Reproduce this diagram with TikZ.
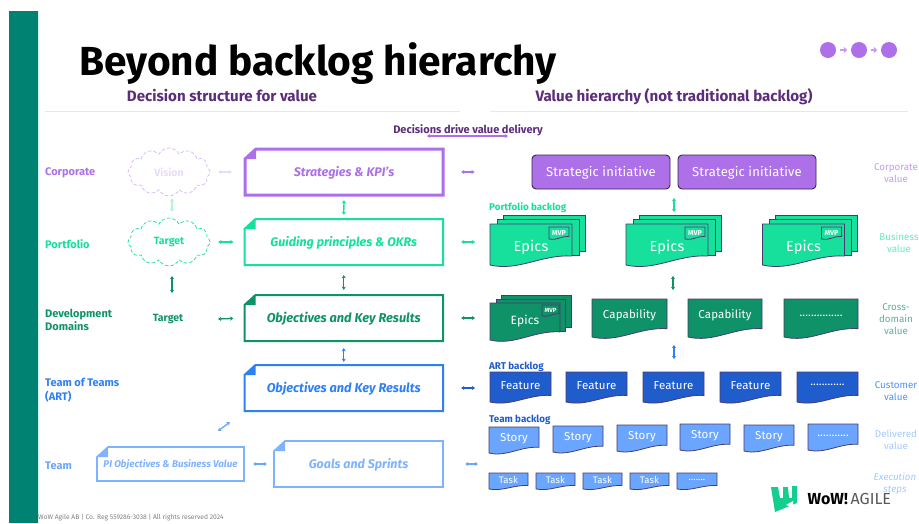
\documentclass[tikz,border=0pt]{standalone}
\usepackage{fontspec}
\setmainfont{Fira Sans}
\usetikzlibrary{shapes.symbols,arrows.meta}
\definecolor{barc}{HTML}{008272}
\definecolor{headc}{HTML}{5B2D7A}
\definecolor{purp}{HTML}{AD70E8}
\definecolor{pale}{HTML}{E9DBFA}
\definecolor{mint}{HTML}{16E09C}
\definecolor{palemint}{HTML}{B5F3DC}
\definecolor{deep}{HTML}{0F9268}
\definecolor{blu}{HTML}{2F80F5}
\definecolor{lblu}{HTML}{6AA6FF}
\definecolor{roy}{HTML}{1F5CCC}
\definecolor{edge}{HTML}{4A3A70}
\tikzset{
  lnk/.style={{Stealth[length=3.2pt,width=4.2pt]}-{Stealth[length=3.2pt,width=4.2pt]},line width=1.3pt},
  rowlabel/.style={anchor=west,align=left,yshift=-.7pt,font=\fontsize{11}{13.5}\selectfont\bfseries,inner sep=0pt},
  vallabel/.style={align=center,yshift=-.7pt,font=\fontsize{9.8}{12}\selectfont,inner sep=0pt},
  backlabel/.style={anchor=west,font=\fontsize{9.8}{12}\selectfont\bfseries,inner sep=0pt},
  cloudbox/.style={cloud,cloud puffs=12,cloud puff arc=125,aspect=1.7,dashed,dash pattern=on 3.5pt off 2pt,line width=.7pt,minimum width=82pt,minimum height=48pt,inner sep=0pt},
  docline/.style={draw=edge,line width=.8pt},
  initbox/.style={draw=edge!70!black,fill=purp,rounded corners=4pt,line width=.9pt,minimum width=138pt,minimum height=34pt,inner sep=0pt,text=white,font=\fontsize{13}{15}\selectfont\addfontfeature{LetterSpace=1}},
}
% name x0 y0 x1 y1 colour width text-size text
\newcommand{\dogbox}[9]{%
  \draw[#6,line width=#7pt,fill=white,line join=miter] ({#2+11},{#3}) -- ({#4},{#3}) -- ({#4},{#5}) -- ({#2},{#5}) -- ({#2},{#3+10}) -- cycle;
  \fill[#6] ({#2},{#3+10}) -- ({#2+11},{#3}) -- ({#2+11},{#3+10}) -- cycle;
  \node[inner sep=0pt,minimum width={(#4-#2)*1pt},minimum height={(#5-#3)*1pt}] (#1) at ({(#2+#4)/2},{(#3+#5)/2}) {};
  \node[inner sep=0pt,text=#6,font=\fontsize{#8}{#8}\selectfont\bfseries\itshape] (#1t) at ({(#2+#4)/2},{(#3+#5)/2+1}) {#9};}
% text position within a document shape, as a share of its height
\def\txf{.46}
% name x y w h fill fontsize text
\newcommand{\docnode}[8]{%
  \draw[docline,fill=#6] ({#2},{#3}) -- ({#2+#4},{#3}) -- ({#2+#4},{#3+.78*#5}) .. controls ({#2+.62*#4},{#3+.74*#5}) and ({#2+.35*#4},{#3+1.16*#5}) .. ({#2},{#3+#5}) -- cycle;
  \node[inner sep=0pt,text=white,font=\fontsize{#7}{#7}\selectfont\addfontfeature{LetterSpace=1}] (#1) at ({#2+#4/2},{#3+\txf*#5}) {#8};}
\newcommand{\docback}[5]{\draw[docline,fill=#5] ({#1},{#2}) -- ({#1+#3},{#2}) -- ({#1+#3},{#2+#4}) -- ({#1},{#2+#4}) -- cycle;}
% name x y  (large epic stack)
\newcommand{\epicstack}[3]{%
  \docback{#2+13}{#3-9}{82}{36}{mint}
  \docback{#2+7}{#3-5}{82}{36}{mint}
  \def\txf{.56}\docnode{#1}{#2}{#3}{82}{41}{mint}{14.5}{Epics}
  \def\txf{.48}\docnode{#1m}{#2+59}{#3+3}{20}{12}{mint}{7}{\bfseries MVP}\def\txf{.46}}
\begin{document}
\begin{tikzpicture}[x=1pt,y=-1pt]
\useasboundingbox (0,0) rectangle (919,523);
\fill[white] (0,0) rectangle (919,523);
\fill[barc] (9,11) rectangle (38,523);
\fill[palemint!60] (38,11) rectangle (39,523);
\node[anchor=base west,inner sep=0pt,font=\fontsize{40.6}{41}\selectfont\bfseries] (title) at (79,75) {Beyond backlog hierarchy};
\node[anchor=base,inner sep=0pt,text=headc,font=\fontsize{15.1}{16}\selectfont\bfseries] (headl) at (222,101) {Decision structure for value};
\node[anchor=base,inner sep=0pt,text=headc,font=\fontsize{15.1}{16}\selectfont\bfseries] (headr) at (674,101) {Value hierarchy (not traditional backlog)};
\draw[palemint!70,line width=.6pt] (45,111) -- (460,111);
\draw[palemint!70,line width=.6pt] (490,111) -- (908,111);
% dots
\fill[purp] (828,50) circle (8) (859,50) circle (8) (889,50) circle (8);
\node[inner sep=0pt,minimum size=1pt] (dot1) at (828,50) {};
\node[inner sep=0pt,minimum size=1pt] (dot2) at (859,50) {};
\node[inner sep=0pt,minimum size=1pt] (dot3) at (889,50) {};
\draw[-{Triangle[length=3.5pt,width=6pt]},purp!70,line width=1.8pt,shorten >=11pt,shorten <=11pt] (dot1) -- (dot2);
\draw[-{Triangle[length=3.5pt,width=6pt]},purp!70,line width=1.8pt,shorten >=11pt,shorten <=11pt] (dot2) -- (dot3);
% decisions
\coordinate (decl) at (427,136);
\coordinate (decr) at (508,136);
\draw[lnk,purp] (decl) -- (decr);
\node[inner sep=0pt,text=headc,font=\fontsize{11}{12}\selectfont\bfseries] (dec) at (468,130) {Decisions drive value delivery};
% row labels
\node[rowlabel,text=purp] (lcorp) at (45,172) {Corporate};
\node[rowlabel,text=mint] (lport) at (45,243) {Portfolio};
\node[rowlabel,text=deep] (ldev) at (45,319) {Development\\Domains};
\node[rowlabel,text=blu] (lart) at (45,389.5) {Team of Teams\\(ART)};
\node[rowlabel,text=lblu] (lteam) at (45,465) {Team};
% clouds
\node[cloudbox,draw=purp!50,text=pale,font=\fontsize{10.5}{12}\selectfont\bfseries] (vision) at (169,172) {Vision};
\node[cloudbox,draw=mint,text=mint,font=\fontsize{10.5}{12}\selectfont\bfseries] (target) at (169,242) {Target};
\node[inner sep=0pt,text=deep,font=\fontsize{10.5}{12}\selectfont\bfseries] (targetd) at (168,319) {Target};
% decision boxes
\dogbox{strat}{245}{149}{443}{195}{purp}{3}{12.5}{Strategies \& KPI's}
\dogbox{guid}{244.5}{219}{443}{265}{mint}{2}{12.5}{Guiding principles \& OKRs}
\dogbox{okr}{244.5}{295}{443}{341}{deep}{2}{12.8}{Objectives and Key Results}
\dogbox{okra}{244.5}{365}{443}{411}{blu}{2}{12.8}{Objectives and Key Results}
\dogbox{pi}{97}{447}{244}{481}{lblu!85}{1.6}{9.8}{PI Objectives \& Business Value}
\dogbox{goal}{274}{441}{443}{487}{lblu!85}{1.6}{12.5}{Goals and Sprints}
% initiatives
\node[initbox] (init1) at (601,172) {};
\node[initbox] (init2) at (747,172) {};
\node[inner sep=0pt,text=white,font=\fontsize{13}{15}\selectfont\addfontfeature{LetterSpace=1}] (init1t) at (601,173) {Strategic initiative};
\node[inner sep=0pt,text=white,font=\fontsize{13}{15}\selectfont\addfontfeature{LetterSpace=1}] (init2t) at (747,173) {Strategic initiative};
% backlog labels
\node[backlabel,text=mint] (bport) at (489,208) {Portfolio backlog};
\node[backlabel,text=roy] (bart) at (489,367) {ART backlog};
\node[backlabel,text=roy] (bteam) at (489,420) {Team backlog};
% epics
\epicstack{epa}{490}{224}
\epicstack{epb}{626}{224}
\epicstack{epc}{762.5}{224}
% cross-domain
\docback{501}{295}{70}{32}{deep}
\docback{496}{299}{69}{32}{deep}
\def\txf{.5}\docnode{epd}{490}{303}{70}{37}{deep}{12}{Epics}
\def\txf{.46}\docnode{epdm}{542}{305}{17}{11}{deep}{6}{\bfseries MVP}
\def\txf{.44}\docnode{capa}{592}{299}{75}{38}{deep}{11.5}{Capability}
\docnode{capb}{688}{299}{74}{38}{deep}{11.5}{Capability}
\docnode{capc}{784}{299}{74}{38}{deep}{11.5}{...............}
% features
\def\txf{.44}
\docnode{fa}{490}{372}{61}{30}{roy}{11.5}{Feature}
\docnode{fb}{566}{372}{61}{30}{roy}{11.5}{Feature}
\docnode{fc}{643}{372}{61}{30}{roy}{11.5}{Feature}
\docnode{fd}{720}{372}{61}{30}{roy}{11.5}{Feature}
\docnode{fe}{797}{372}{61}{30}{roy}{11.5}{............}
% stories
\def\txf{.46}
\docnode{sa}{489}{427}{50}{26}{lblu}{11.5}{Story}
\docnode{sb}{553}{426}{50}{26}{lblu}{11.5}{Story}
\docnode{sc}{617}{425}{50}{26}{lblu}{11.5}{Story}
\docnode{sd}{680}{424}{50}{26}{lblu}{11.5}{Story}
\docnode{se}{744}{425}{50}{26}{lblu}{11.5}{Story}
\docnode{sf}{808}{424}{50}{26}{lblu}{11.5}{...........}
% tasks
\docnode{ta}{489}{473}{39}{16}{lblu}{9.5}{Task}
\docnode{tb}{536}{473}{39}{16}{lblu}{9.5}{Task}
\docnode{tc}{583}{473}{39}{16}{lblu}{9.5}{Task}
\docnode{td}{630}{473}{39}{16}{lblu}{9.5}{Task}
\docnode{te}{677}{473}{40}{16}{lblu}{9.5}{.......}
% value labels
\node[vallabel,text=purp!70] (vcorp) at (896,172.5) {Corporate\\value};
\node[vallabel,text=mint!65] (vbus) at (899,242.5) {Business\\value};
\node[vallabel,text=deep!70] (vcross) at (896,318) {Cross-\\domain\\value};
\node[vallabel,text=blu!85] (vcust) at (896,390) {Customer\\value};
\node[vallabel,text=lblu!60] (vdel) at (896,439.5) {Delivered\\value};
\node[vallabel,text=lblu!60,font=\fontsize{9.8}{12}\selectfont\itshape] (vexe) at (895,483) {Execution\\steps};
% connectors
\coordinate (ves) at (218,172);
\coordinate (vee) at (232,172);
\draw[lnk,pale] (ves) -- (vee);
\draw[lnk,palemint,shorten <=2pt,shorten >=6pt] (vision.south -| 172,196) -- (target.north -| 172,218);
\draw[lnk,mint,shorten >=11pt,shorten <=8pt] (target.east) -- (guid.west);
\draw[lnk,deep,shorten >=11pt] (targetd.east -| 218,319) -- (okr.west);
\draw[lnk,deep,shorten <=10pt,shorten >=21pt] (172,266) -- (targetd.north -| 172,311);
\draw[lnk,mint,shorten <=5pt,shorten >=4pt] (strat.south) -- (guid.north);
\draw[lnk,deep,shorten <=10pt,shorten >=5pt] (guid.south) -- (okr.north);
\draw[lnk,blu,shorten <=7pt,shorten >=3pt] (okr.south) -- (okra.north);
\draw[lnk,lblu,shorten <=9pt,shorten >=7pt] (pi.east) -- (pi.east -| goal.west);
\coordinate (diaga) at (218,431);
\coordinate (diagb) at (230,422);
\draw[lnk,lblu] (diaga) -- (diagb);
\draw[lnk,purp,shorten <=18pt,shorten >=57pt] (strat.east) -- (strat.east -| init1.west);
\draw[lnk,mint,shorten <=18pt,shorten >=15pt] (guid.east) -- (guid.east -| 490,242);
\draw[lnk,deep,shorten <=18pt,shorten >=15pt] (okr.east) -- (okr.east -| 490,318);
\draw[lnk,roy,shorten <=18pt,shorten >=15pt] (okra.east) -- (okra.east -| 490,388);
\coordinate (goalr) at (490,464);
\draw[lnk,lblu,shorten <=22pt,shorten >=12pt] (goal.east) -- (goalr);
\coordinate (hia) at (674,189);
\draw[lnk,mint,shorten <=9pt,shorten >=3pt] (hia) -- (674,215);
\coordinate (hib) at (673,267);
\draw[lnk,deep,shorten <=9pt,shorten >=9pt] (hib) -- (673,299);
\coordinate (hic) at (674,337);
\draw[lnk,blu,shorten <=8pt,shorten >=13pt] (hic) -- (674,372);
% logo
\fill[mint!92!black] (771,487) -- (778,487) -- (780,498) -- (783,498) -- (783,487) -- (788,487) -- (789,498) -- (792,498) -- (792,486) -- (797,486) -- (797,503) -- (775,512) -- cycle;
\fill[white] (786,505) -- (793,501) -- (793,507) -- cycle;
\node[anchor=west,inner sep=0pt,font=\fontsize{16}{16}\selectfont\bfseries] (wow) at (807.5,499) {WoW!};
\node[anchor=west,inner sep=0pt,text=black!65,font=\fontsize{16}{16}\selectfont] (agile) at (850.5,499) {AGILE};
% footer
\node[anchor=west,inner sep=0pt,text=black!50,font=\fontsize{6.7}{8}\selectfont] (foot) at (38,518) {WoW Agile AB | Co. Reg 559286-3038 | All rights reserved 2024};
\end{tikzpicture}
\end{document}
